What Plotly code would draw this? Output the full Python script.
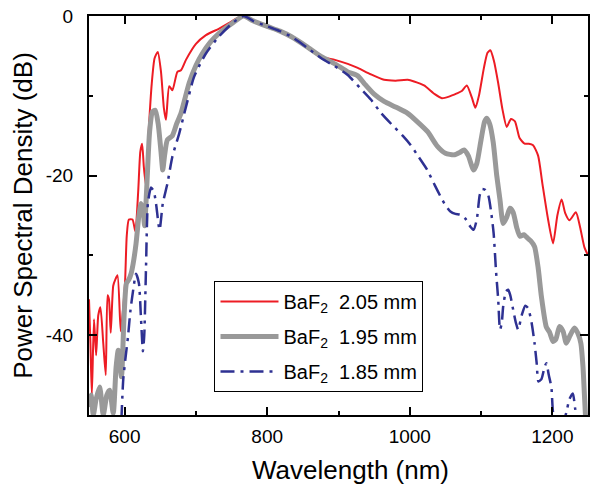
import plotly.graph_objects as go

# ---- data (wavelength nm, PSD dB) ----
wl_205 = [550, 552, 554, 557, 560, 563, 566, 570, 573.5, 576, 578, 580.5, 584, 587, 590, 594.5, 597, 600.5,
          603, 606, 611, 615, 619, 622, 624.5, 627, 630, 634, 638, 642, 646.5, 651, 655, 658, 662.5, 667,
          674, 679, 686, 700, 714, 732, 746, 757, 767, 780, 800, 818, 834, 855, 876, 895, 913, 927, 945,
          964, 980, 997, 1006, 1020, 1035, 1045, 1055, 1066, 1073, 1080, 1087, 1092, 1097, 1104, 1109,
          1113, 1118, 1124, 1130, 1136, 1142, 1147.5, 1154, 1161, 1167, 1173, 1180, 1186, 1194, 1201,
          1207, 1213, 1218, 1224, 1233, 1239, 1245, 1250]
db_205 = [-35.5, -41, -47.5, -38, -42.5, -37.5, -36.5, -41, -45, -35, -35.5, -39.7, -33.8, -33, -32.5, -39.5,
          -37.5, -33.5, -27.5, -25.5, -25.5, -27, -22, -17, -16, -19, -21.3, -14, -8.5, -5.3, -4.5, -7,
          -11.5, -13, -8.8, -9.3, -7, -6.8, -5.5, -3.5, -2.4, -1.6, -0.9, -0.3, 0, -0.6, -1.3, -1.9, -2.6,
          -3.8, -5.1, -5.5, -6.0, -6.5, -7.3, -8.0, -8.1, -8.0, -8.2, -8.7, -9.8, -10.3, -10.1, -9.7, -9.4,
          -8.7, -10.2, -11.5, -10, -6.5, -4.6, -4.3, -5.6, -8.4, -11.7, -13.9, -12.9, -13.2, -15.3, -16,
          -16, -16.2, -17.5, -21, -25.5, -28.5, -25, -23, -24.7, -25.6, -24.6, -26.5, -29, -30]

wl_195 = [550, 553, 556, 560, 565, 570, 575, 579, 584, 588, 591, 595.5, 599, 602.5, 606, 609, 612, 616, 620,
          623, 626, 628, 631, 635, 639, 643, 647, 651, 653.5, 656, 660, 667, 673, 679, 690.5, 700, 709, 720,
          732, 751, 767, 780, 800, 818, 834, 855, 876, 895, 913, 927, 936.5, 950, 964, 980, 997, 1010, 1025,
          1038.5, 1050, 1062, 1070, 1076, 1082, 1089.5, 1094, 1100, 1105, 1108, 1112, 1117, 1122, 1126.5,
          1131, 1136, 1140.5, 1145, 1150, 1154.5, 1160, 1166, 1170, 1175, 1180, 1184.7, 1191.6, 1196, 1201,
          1205, 1210, 1215, 1219.5, 1225, 1231, 1236, 1240, 1243, 1245, 1247]
db_195 = [-49, -47.5, -50, -48, -46.5, -50, -47.5, -46.9, -49.8, -44, -41.9, -45.2, -38, -33.5, -33, -32.3,
          -31, -28.5, -25, -23.5, -24.5, -26.3, -21.5, -14.5, -12, -11.8, -13.5, -17, -19.3, -17.5, -15.5,
          -15, -13.5, -12.2, -8.4, -6.2, -4.7, -3.3, -2.2, -0.9, 0, -0.6, -1.3, -1.9, -2.6, -3.8, -5.1, -6.0,
          -7.0, -7.5, -8.5, -9.8, -10.7, -11.4, -12.2, -13.2, -14.5, -16.3, -17.2, -17.4, -17.1, -16.8,
          -17.5, -19.3, -18.5, -15.5, -13.2, -12.8, -13.5, -15.8, -20, -23, -26, -25.2, -24.1, -24.6, -26.5,
          -27.6, -27.4, -27.9, -28.2, -28.9, -31.5, -35.2, -39, -39.6, -40.8, -40.5, -38.9, -39.5, -41, -40,
          -39.1, -39.8, -41, -44, -47.5, -51]

wl_185 = [595.5, 598, 601, 604.7, 608, 611.7, 616, 620, 623, 625.6, 627.5, 630, 632.6, 637, 641, 644, 649,
          653.5, 660, 667, 676.6, 686, 697.5, 714, 732, 751, 767, 780, 800, 818, 834, 855, 876, 895, 913,
          930, 945.7, 960, 978, 990, 1001.4, 1012, 1024.6, 1035, 1043, 1050, 1057, 1064, 1071, 1078, 1085,
          1089.5, 1094, 1098, 1101, 1106, 1110.5, 1114, 1117.6, 1121, 1124, 1126.6, 1129, 1131, 1135, 1138,
          1141, 1145, 1149, 1152, 1157, 1162, 1166, 1171, 1175, 1178, 1180.5, 1184.7, 1189, 1191.6, 1195,
          1198.6, 1201, 1205, 1215, 1219.5, 1224, 1228.7, 1232, 1236, 1250]
db_185 = [-50.5, -45.6, -43, -40.2, -37, -34.5, -32.3, -33.5, -38, -42, -40, -31.4, -23.5, -21.5, -22, -23.5,
          -26.8, -23.5, -21, -17.6, -14.7, -11.4, -7.6, -4.7, -2.6, -0.9, 0, -0.6, -1.3, -1.9, -2.6, -3.9,
          -5.3, -6.3, -7.4, -9, -10.5, -12.2, -13.9, -15, -16.2, -17.6, -19.3, -21.2, -22.6, -23.7, -24.5,
          -24.8, -24.9, -25.4, -26.4, -26.8, -25.5, -22.5, -21.7, -21.8, -22.6, -24.5, -27.2, -32, -35.5,
          -39.3, -38.5, -36.4, -34.5, -34.3, -35, -36.8, -38.5, -39.3, -37.5, -36.3, -36.6, -38.5, -41,
          -43.5, -45.8, -45.5, -44, -43.5, -45, -46.5, -49.7, -51, -51, -49.7, -48, -47.3, -49.2, -51, -51]

names = ["BaF<sub>2</sub>\u00a0 2.05 mm", "BaF<sub>2</sub>\u00a0 1.95 mm", "BaF<sub>2</sub>\u00a0 1.85 mm"]
x_tickvals = [600, 800, 1000, 1200]
x_ticktext = ["600", "800", "1000", "1200"]
y_tickvals = [0, -20, -40]
y_ticktext = ["0", "-20", "-40"]
x_title = "Wavelength (nm)"
y_title = "Power Spectral Density (dB)"

FONT = "Liberation Sans, Arial, sans-serif"

fig = go.Figure()
fig.add_trace(go.Scatter(x=wl_205, y=db_205, mode="lines", name=names[0], legendgroup="a",
                         line=dict(color="#ED1C24", width=2, shape="spline", smoothing=0.6)))
fig.add_trace(go.Scatter(x=wl_195, y=db_195, mode="lines", name=names[1], legendgroup="b",
                         line=dict(color="#999999", width=5, shape="spline", smoothing=0.6)))
fig.add_trace(go.Scatter(x=wl_185, y=db_185, mode="lines", name=names[2], legendgroup="c",
                         line=dict(color="#2E3192", width=2.5, shape="spline", smoothing=0.6,
                                   dash="14px,6px,3px,6px")))

axis_common = dict(showline=True, linecolor="black", linewidth=2, mirror="ticks", ticks="inside",
                   tickcolor="black", tickwidth=2, ticklen=8, showgrid=False, zeroline=False,
                   tickfont=dict(family=FONT, size=19, color="black"))

fig.update_xaxes(range=[550, 1250], tickvals=x_tickvals, ticktext=x_ticktext,
                 minor=dict(dtick=100, tick0=600, ticks="inside", ticklen=4, tickwidth=2, tickcolor="black"),
                 ticklabelstandoff=3, **axis_common)
fig.update_yaxes(range=[-50, 0], tickvals=y_tickvals, ticktext=y_ticktext,
                 minor=dict(dtick=10, tick0=0, ticks="inside", ticklen=4, tickwidth=2, tickcolor="black"),
                 title=dict(text=y_title, font=dict(family=FONT, size=26, color="black"), standoff=6),
                 ticklabelstandoff=10, **axis_common)

fig.add_annotation(text=x_title, xref="paper", yref="paper", x=0.524, y=-0.1378,
                   xanchor="center", yanchor="middle", showarrow=False,
                   font=dict(family=FONT, size=26, color="black"))

fig.update_layout(
    width=590, height=491,
    margin=dict(l=89, r=0, t=16, b=76),
    plot_bgcolor="white", paper_bgcolor="white",
    font=dict(family=FONT, color="black"),
    legend=dict(x=0.2515, y=0.336, xanchor="left", yanchor="top",
                bgcolor="white", bordercolor="black", borderwidth=1,
                font=dict(family=FONT, size=20, color="black"),
                tracegroupgap=6, itemwidth=58),
)

fig.write_html("out.html")
